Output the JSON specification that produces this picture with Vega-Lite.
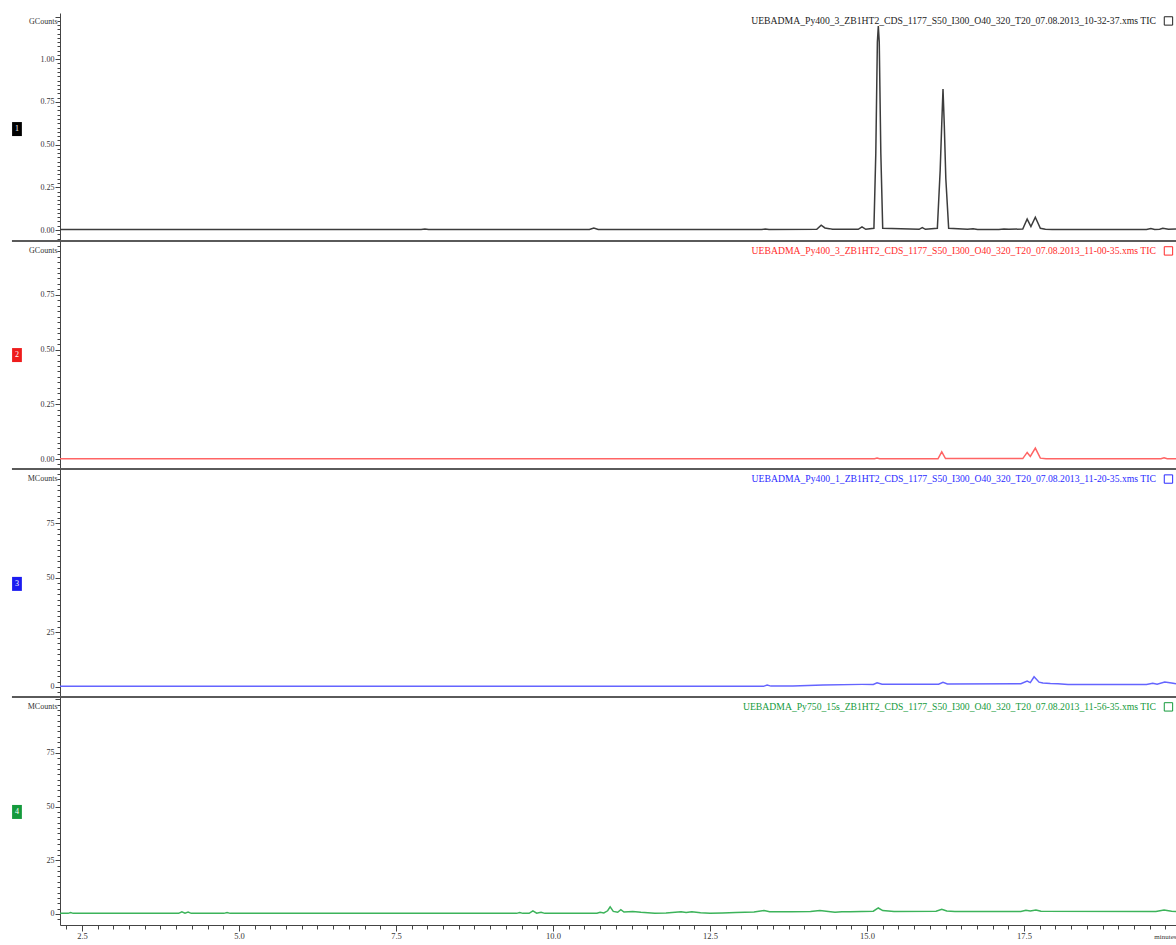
{
  "$schema": "https://vega.github.io/schema/vega-lite/v6.json",
  "background": "white",
  "padding": {"left": 10, "top": 12, "right": 0, "bottom": 0},
  "autosize": {"type": "pad"},
  "spacing": 0,
  "bounds": "flush",
  "config": {
    "view": {"stroke": null},
    "axis": {
      "grid": false,
      "domainColor": "#444444",
      "tickColor": "#444444",
      "labelFont": "Liberation Serif",
      "labelFontSize": 8,
      "labelColor": "#333333",
      "labelPadding": 1,
      "labelOverlap": false,
      "labelFlush": false,
      "labelBound": false,
      "titleFont": "Liberation Serif",
      "titleFontSize": 8,
      "titleFontWeight": "normal",
      "titleColor": "#333333"
    }
  },
  "datasets": {
    "run1": [
      {"t": 2.15, "v": 0.003}, {"t": 7.90, "v": 0.003}, {"t": 7.96, "v": 0.006}, {"t": 8.02, "v": 0.003},
      {"t": 10.58, "v": 0.003}, {"t": 10.65, "v": 0.012}, {"t": 10.72, "v": 0.003},
      {"t": 13.32, "v": 0.003}, {"t": 13.38, "v": 0.006}, {"t": 13.44, "v": 0.003},
      {"t": 14.20, "v": 0.004}, {"t": 14.27, "v": 0.028}, {"t": 14.33, "v": 0.012}, {"t": 14.40, "v": 0.008}, {"t": 14.45, "v": 0.004},
      {"t": 14.86, "v": 0.004}, {"t": 14.92, "v": 0.018}, {"t": 14.98, "v": 0.004},
      {"t": 15.11, "v": 0.01}, {"t": 15.14, "v": 0.45}, {"t": 15.165, "v": 1.1}, {"t": 15.18, "v": 1.194}, {"t": 15.195, "v": 1.1}, {"t": 15.22, "v": 0.45}, {"t": 15.25, "v": 0.01},
      {"t": 15.83, "v": 0.004}, {"t": 15.88, "v": 0.014}, {"t": 15.93, "v": 0.004},
      {"t": 16.12, "v": 0.01}, {"t": 16.165, "v": 0.35}, {"t": 16.19, "v": 0.62}, {"t": 16.21, "v": 0.826}, {"t": 16.23, "v": 0.62}, {"t": 16.255, "v": 0.3}, {"t": 16.30, "v": 0.01},
      {"t": 16.60, "v": 0.004}, {"t": 16.69, "v": 0.007}, {"t": 16.76, "v": 0.003},
      {"t": 17.10, "v": 0.003}, {"t": 17.18, "v": 0.006}, {"t": 17.26, "v": 0.004},
      {"t": 17.48, "v": 0.006}, {"t": 17.55, "v": 0.064}, {"t": 17.61, "v": 0.02}, {"t": 17.68, "v": 0.075}, {"t": 17.76, "v": 0.01}, {"t": 17.84, "v": 0.005}, {"t": 17.95, "v": 0.003},
      {"t": 19.45, "v": 0.003}, {"t": 19.52, "v": 0.009}, {"t": 19.58, "v": 0.003}, {"t": 19.66, "v": 0.004}, {"t": 19.71, "v": 0.010}, {"t": 19.80, "v": 0.005}, {"t": 19.92, "v": 0.006}
    ],
    "run2": [
      {"t": 2.15, "v": 0.001}, {"t": 15.12, "v": 0.001}, {"t": 15.16, "v": 0.004}, {"t": 15.20, "v": 0.001},
      {"t": 16.13, "v": 0.001}, {"t": 16.19, "v": 0.033}, {"t": 16.25, "v": 0.002},
      {"t": 17.48, "v": 0.002}, {"t": 17.55, "v": 0.03}, {"t": 17.60, "v": 0.012}, {"t": 17.68, "v": 0.05}, {"t": 17.76, "v": 0.004}, {"t": 17.85, "v": 0.001},
      {"t": 19.68, "v": 0.001}, {"t": 19.73, "v": 0.006}, {"t": 19.78, "v": 0.001}, {"t": 19.92, "v": 0.001}
    ],
    "run3": [
      {"t": 2.15, "v": 0.3}, {"t": 13.35, "v": 0.3}, {"t": 13.41, "v": 0.9}, {"t": 13.47, "v": 0.4}, {"t": 13.82, "v": 0.5},
      {"t": 14.3, "v": 0.9}, {"t": 14.92, "v": 1.2}, {"t": 15.10, "v": 1.2}, {"t": 15.16, "v": 1.9}, {"t": 15.24, "v": 1.3},
      {"t": 16.14, "v": 1.3}, {"t": 16.21, "v": 2.1}, {"t": 16.28, "v": 1.4},
      {"t": 17.45, "v": 1.5}, {"t": 17.55, "v": 2.7}, {"t": 17.60, "v": 2.0}, {"t": 17.66, "v": 4.7}, {"t": 17.74, "v": 2.2}, {"t": 17.80, "v": 1.8}, {"t": 17.92, "v": 1.6}, {"t": 18.04, "v": 1.5}, {"t": 18.2, "v": 1.2},
      {"t": 19.45, "v": 1.2}, {"t": 19.55, "v": 1.7}, {"t": 19.62, "v": 1.3}, {"t": 19.74, "v": 2.3}, {"t": 19.85, "v": 1.8}, {"t": 19.92, "v": 1.5}
    ],
    "run4": [
      {"t": 2.15, "v": 0.3}, {"t": 2.28, "v": 0.3}, {"t": 2.32, "v": 0.7}, {"t": 2.36, "v": 0.3},
      {"t": 4.04, "v": 0.3}, {"t": 4.09, "v": 1.0}, {"t": 4.14, "v": 0.4}, {"t": 4.19, "v": 0.9}, {"t": 4.24, "v": 0.3},
      {"t": 4.76, "v": 0.3}, {"t": 4.81, "v": 0.7}, {"t": 4.86, "v": 0.3},
      {"t": 9.42, "v": 0.3}, {"t": 9.47, "v": 0.7}, {"t": 9.52, "v": 0.3}, {"t": 9.62, "v": 0.3}, {"t": 9.68, "v": 1.5}, {"t": 9.74, "v": 0.4}, {"t": 9.81, "v": 0.8}, {"t": 9.87, "v": 0.3},
      {"t": 10.70, "v": 0.4}, {"t": 10.75, "v": 0.8}, {"t": 10.81, "v": 0.5}, {"t": 10.87, "v": 1.5}, {"t": 10.91, "v": 3.3}, {"t": 10.96, "v": 1.2}, {"t": 11.03, "v": 0.8}, {"t": 11.08, "v": 2.0}, {"t": 11.13, "v": 0.9},
      {"t": 11.27, "v": 1.2}, {"t": 11.40, "v": 0.8}, {"t": 11.62, "v": 0.3}, {"t": 11.80, "v": 0.5}, {"t": 12.04, "v": 1.0}, {"t": 12.12, "v": 0.7}, {"t": 12.21, "v": 1.0}, {"t": 12.35, "v": 0.6}, {"t": 12.50, "v": 0.3},
      {"t": 12.70, "v": 0.5}, {"t": 12.91, "v": 0.7}, {"t": 13.20, "v": 0.9}, {"t": 13.36, "v": 1.6}, {"t": 13.45, "v": 1.0}, {"t": 13.79, "v": 1.0},
      {"t": 14.10, "v": 1.2}, {"t": 14.25, "v": 1.6}, {"t": 14.35, "v": 1.3}, {"t": 14.49, "v": 0.8}, {"t": 14.60, "v": 1.0}, {"t": 14.73, "v": 1.0},
      {"t": 15.10, "v": 1.3}, {"t": 15.18, "v": 2.8}, {"t": 15.25, "v": 1.6}, {"t": 15.43, "v": 1.2},
      {"t": 16.10, "v": 1.3}, {"t": 16.19, "v": 2.2}, {"t": 16.27, "v": 1.4}, {"t": 16.40, "v": 1.2},
      {"t": 17.45, "v": 1.2}, {"t": 17.53, "v": 1.7}, {"t": 17.60, "v": 1.4}, {"t": 17.69, "v": 1.9}, {"t": 17.77, "v": 1.3},
      {"t": 19.60, "v": 1.2}, {"t": 19.73, "v": 1.9}, {"t": 19.85, "v": 1.3}, {"t": 19.92, "v": 1.2}
    ]
  },
  "vconcat": [
    {
      "width": 1116, "height": 228,
      "resolve": {"axis": {"x": "independent", "y": "independent"}},
      "layer": [
        {
          "data": {"name": "run1"},
          "mark": {"type": "line", "color": "#3c3c3c", "strokeWidth": 1.5},
          "encoding": {
            "x": {"field": "t", "type": "quantitative", "scale": {"domain": [2.15, 19.92], "nice": false, "zero": false}, "axis": null},
            "y": {"field": "v", "type": "quantitative", "scale": {"domain": [-0.0644, 1.2705], "nice": false, "zero": false},
              "axis": {
                "values": [-0.05, -0.025, 0, 0.025, 0.05, 0.075, 0.1, 0.125, 0.15, 0.175, 0.2, 0.225, 0.25, 0.275, 0.3, 0.325, 0.35, 0.375, 0.4, 0.425, 0.45, 0.475, 0.5, 0.525, 0.55, 0.575, 0.6, 0.625, 0.65, 0.675, 0.7, 0.725, 0.75, 0.775, 0.8, 0.825, 0.85, 0.875, 0.9, 0.925, 0.95, 0.975, 1, 1.025, 1.05, 1.075, 1.1, 1.125, 1.15, 1.175, 1.2, 1.225, 1.25],
                "labelExpr": "abs(datum.value*4-round(datum.value*4))<0.001 && datum.value < 1.2 ? format(datum.value,'.2f') : ''",
                "tickSize": {"condition": {"test": "abs(datum.value*4-round(datum.value*4))<0.001", "value": 5}, "value": 3},
                "labelOverlap": false,
                "title": "GCounts", "titleAngle": 0, "titleAlign": "right", "titleBaseline": "middle", "titleX": -3, "titleY": 8
              }
            }
          }
        },
        {
          "data": {"values": [{}]},
          "mark": {"type": "rule", "color": "#5a5a5a", "strokeWidth": 2},
          "encoding": {"x": {"datum": 1.385, "axis": null}, "x2": {"datum": 19.92}, "y": {"datum": -0.0644, "axis": null}}
        },
        {
          "data": {"values": [{}]},
          "mark": {"type": "point", "shape": "M-0.7,-1H0.7V1H-0.7Z", "filled": true, "color": "#000000", "size": 196, "opacity": 1},
          "encoding": {"x": {"datum": 1.465, "axis": null}, "y": {"datum": 0.591, "axis": null}}
        },
        {
          "data": {"values": [{}]},
          "mark": {"type": "text", "text": "1", "color": "#ffffff", "font": "Liberation Serif", "fontSize": 8, "align": "center", "baseline": "middle"},
          "encoding": {"x": {"datum": 1.465, "axis": null}, "y": {"datum": 0.591, "axis": null}}
        },
        {
          "data": {"values": [{"label": "UEBADMA_Py400_3_ZB1HT2_CDS_1177_S50_I300_O40_320_T20_07.08.2013_10-32-37.xms  TIC"}]},
          "mark": {"type": "text", "color": "#222222", "font": "Liberation Serif", "fontSize": 9.7, "align": "right", "baseline": "middle"},
          "encoding": {"x": {"datum": 19.60, "axis": null}, "y": {"datum": 1.224, "axis": null}, "text": {"field": "label"}}
        },
        {
          "data": {"values": [{}]},
          "mark": {"type": "point", "shape": "square", "filled": false, "color": "#222222", "size": 70, "strokeWidth": 1, "opacity": 1},
          "encoding": {"x": {"datum": 19.80, "axis": null}, "y": {"datum": 1.224, "axis": null}}
        }
      ]
    },
    {
      "width": 1116, "height": 228,
      "resolve": {"axis": {"x": "independent", "y": "independent"}},
      "layer": [
        {
          "data": {"name": "run2"},
          "mark": {"type": "line", "color": "#ff6464", "strokeWidth": 1.5},
          "encoding": {
            "x": {"field": "t", "type": "quantitative", "scale": {"domain": [2.15, 19.92], "nice": false, "zero": false}, "axis": null},
            "y": {"field": "v", "type": "quantitative", "scale": {"domain": [-0.0457, 0.9963], "nice": false, "zero": false},
              "axis": {
                "values": [-0.025, 0, 0.025, 0.05, 0.075, 0.1, 0.125, 0.15, 0.175, 0.2, 0.225, 0.25, 0.275, 0.3, 0.325, 0.35, 0.375, 0.4, 0.425, 0.45, 0.475, 0.5, 0.525, 0.55, 0.575, 0.6, 0.625, 0.65, 0.675, 0.7, 0.725, 0.75, 0.775, 0.8, 0.825, 0.85, 0.875, 0.9, 0.925, 0.95, 0.975],
                "labelExpr": "abs(datum.value*4-round(datum.value*4))<0.001 ? format(datum.value,'.2f') : ''",
                "tickSize": {"condition": {"test": "abs(datum.value*4-round(datum.value*4))<0.001", "value": 5}, "value": 3},
                "labelOverlap": false,
                "title": "GCounts", "titleAngle": 0, "titleAlign": "right", "titleBaseline": "middle", "titleX": -3, "titleY": 9
              }
            }
          }
        },
        {
          "data": {"values": [{}]},
          "mark": {"type": "rule", "color": "#5a5a5a", "strokeWidth": 2},
          "encoding": {"x": {"datum": 1.385, "axis": null}, "x2": {"datum": 19.92}, "y": {"datum": -0.0457, "axis": null}}
        },
        {
          "data": {"values": [{}]},
          "mark": {"type": "point", "shape": "M-0.7,-1H0.7V1H-0.7Z", "filled": true, "color": "#ee1c1c", "size": 196, "opacity": 1},
          "encoding": {"x": {"datum": 1.465, "axis": null}, "y": {"datum": 0.475, "axis": null}}
        },
        {
          "data": {"values": [{}]},
          "mark": {"type": "text", "text": "2", "color": "#ffffff", "font": "Liberation Serif", "fontSize": 8, "align": "center", "baseline": "middle"},
          "encoding": {"x": {"datum": 1.465, "axis": null}, "y": {"datum": 0.475, "axis": null}}
        },
        {
          "data": {"values": [{"label": "UEBADMA_Py400_3_ZB1HT2_CDS_1177_S50_I300_O40_320_T20_07.08.2013_11-00-35.xms  TIC"}]},
          "mark": {"type": "text", "color": "#ff2a2a", "font": "Liberation Serif", "fontSize": 9.7, "align": "right", "baseline": "middle"},
          "encoding": {"x": {"datum": 19.60, "axis": null}, "y": {"datum": 0.951, "axis": null}, "text": {"field": "label"}}
        },
        {
          "data": {"values": [{}]},
          "mark": {"type": "point", "shape": "square", "filled": false, "color": "#ff2a2a", "size": 70, "strokeWidth": 1, "opacity": 1},
          "encoding": {"x": {"datum": 19.80, "axis": null}, "y": {"datum": 0.951, "axis": null}}
        }
      ]
    },
    {
      "width": 1116, "height": 228,
      "resolve": {"axis": {"x": "independent", "y": "independent"}},
      "layer": [
        {
          "data": {"name": "run3"},
          "mark": {"type": "line", "color": "#6464ff", "strokeWidth": 1.5},
          "encoding": {
            "x": {"field": "t", "type": "quantitative", "scale": {"domain": [2.15, 19.92], "nice": false, "zero": false}, "axis": null},
            "y": {"field": "v", "type": "quantitative", "scale": {"domain": [-4.58, 99.8], "nice": false, "zero": false},
              "axis": {
                "values": [-2.5, 0, 2.5, 5, 7.5, 10, 12.5, 15, 17.5, 20, 22.5, 25, 27.5, 30, 32.5, 35, 37.5, 40, 42.5, 45, 47.5, 50, 52.5, 55, 57.5, 60, 62.5, 65, 67.5, 70, 72.5, 75, 77.5, 80, 82.5, 85, 87.5, 90, 92.5, 95, 97.5],
                "labelExpr": "datum.value % 25 == 0 ? format(datum.value,'d') : ''",
                "tickSize": {"condition": {"test": "datum.value % 25 == 0", "value": 5}, "value": 3},
                "labelOverlap": false,
                "title": "MCounts", "titleAngle": 0, "titleAlign": "right", "titleBaseline": "middle", "titleX": -3, "titleY": 9
              }
            }
          }
        },
        {
          "data": {"values": [{}]},
          "mark": {"type": "rule", "color": "#5a5a5a", "strokeWidth": 2},
          "encoding": {"x": {"datum": 1.385, "axis": null}, "x2": {"datum": 19.92}, "y": {"datum": -4.58, "axis": null}}
        },
        {
          "data": {"values": [{}]},
          "mark": {"type": "point", "shape": "M-0.7,-1H0.7V1H-0.7Z", "filled": true, "color": "#1c1cf0", "size": 196, "opacity": 1},
          "encoding": {"x": {"datum": 1.465, "axis": null}, "y": {"datum": 47.2, "axis": null}}
        },
        {
          "data": {"values": [{}]},
          "mark": {"type": "text", "text": "3", "color": "#ffffff", "font": "Liberation Serif", "fontSize": 8, "align": "center", "baseline": "middle"},
          "encoding": {"x": {"datum": 1.465, "axis": null}, "y": {"datum": 47.2, "axis": null}}
        },
        {
          "data": {"values": [{"label": "UEBADMA_Py400_1_ZB1HT2_CDS_1177_S50_I300_O40_320_T20_07.08.2013_11-20-35.xms  TIC"}]},
          "mark": {"type": "text", "color": "#2a2aff", "font": "Liberation Serif", "fontSize": 9.7, "align": "right", "baseline": "middle"},
          "encoding": {"x": {"datum": 19.60, "axis": null}, "y": {"datum": 95.2, "axis": null}, "text": {"field": "label"}}
        },
        {
          "data": {"values": [{}]},
          "mark": {"type": "point", "shape": "square", "filled": false, "color": "#2a2aff", "size": 70, "strokeWidth": 1, "opacity": 1},
          "encoding": {"x": {"datum": 19.80, "axis": null}, "y": {"datum": 95.2, "axis": null}}
        }
      ]
    },
    {
      "width": 1116, "height": 228,
      "resolve": {"axis": {"x": "independent", "y": "independent"}},
      "layer": [
        {
          "data": {"name": "run4"},
          "mark": {"type": "line", "color": "#3cb35a", "strokeWidth": 1.5},
          "encoding": {
            "x": {"field": "t", "type": "quantitative", "scale": {"domain": [2.15, 19.92], "nice": false, "zero": false},
              "axis": {
                "values": [2.25, 2.5, 2.75, 3, 3.25, 3.5, 3.75, 4, 4.25, 4.5, 4.75, 5, 5.25, 5.5, 5.75, 6, 6.25, 6.5, 6.75, 7, 7.25, 7.5, 7.75, 8, 8.25, 8.5, 8.75, 9, 9.25, 9.5, 9.75, 10, 10.25, 10.5, 10.75, 11, 11.25, 11.5, 11.75, 12, 12.25, 12.5, 12.75, 13, 13.25, 13.5, 13.75, 14, 14.25, 14.5, 14.75, 15, 15.25, 15.5, 15.75, 16, 16.25, 16.5, 16.75, 17, 17.25, 17.5, 17.75, 18, 18.25, 18.5, 18.75, 19, 19.25, 19.5, 19.75],
                "labelExpr": "abs(datum.value/2.5-round(datum.value/2.5))<0.001 ? format(datum.value,'.1f') : ''",
                "tickSize": {"condition": {"test": "abs(datum.value/2.5-round(datum.value/2.5))<0.001", "value": 6}, "value": 4},
                "labelOverlap": false, "labelFontSize": 8.5,
                "labelPadding": 0,
                "title": "minutes", "titleAnchor": "end", "titleAlign": "right", "titleBaseline": "top", "titleX": 1116, "titleY": 7, "titleFontSize": 7
              }
            },
            "y": {"field": "v", "type": "quantitative", "scale": {"domain": [-5.12, 101.0], "nice": false, "zero": false},
              "axis": {
                "values": [-2.5, 0, 2.5, 5, 7.5, 10, 12.5, 15, 17.5, 20, 22.5, 25, 27.5, 30, 32.5, 35, 37.5, 40, 42.5, 45, 47.5, 50, 52.5, 55, 57.5, 60, 62.5, 65, 67.5, 70, 72.5, 75, 77.5, 80, 82.5, 85, 87.5, 90, 92.5, 95, 97.5, 100],
                "labelExpr": "datum.value % 25 == 0 && datum.value < 99 ? format(datum.value,'d') : ''",
                "tickSize": {"condition": {"test": "datum.value % 25 == 0", "value": 5}, "value": 3},
                "labelOverlap": false,
                "title": "MCounts", "titleAngle": 0, "titleAlign": "right", "titleBaseline": "middle", "titleX": -3, "titleY": 9
              }
            }
          }
        },
        {
          "data": {"values": [{}]},
          "mark": {"type": "point", "shape": "M-0.7,-1H0.7V1H-0.7Z", "filled": true, "color": "#149a3c", "size": 196, "opacity": 1},
          "encoding": {"x": {"datum": 1.465, "axis": null}, "y": {"datum": 47.5, "axis": null}}
        },
        {
          "data": {"values": [{}]},
          "mark": {"type": "text", "text": "4", "color": "#ffffff", "font": "Liberation Serif", "fontSize": 8, "align": "center", "baseline": "middle"},
          "encoding": {"x": {"datum": 1.465, "axis": null}, "y": {"datum": 47.5, "axis": null}}
        },
        {
          "data": {"values": [{"label": "UEBADMA_Py750_15s_ZB1HT2_CDS_1177_S50_I300_O40_320_T20_07.08.2013_11-56-35.xms  TIC"}]},
          "mark": {"type": "text", "color": "#149a3c", "font": "Liberation Serif", "fontSize": 9.7, "align": "right", "baseline": "middle"},
          "encoding": {"x": {"datum": 19.60, "axis": null}, "y": {"datum": 96.4, "axis": null}, "text": {"field": "label"}}
        },
        {
          "data": {"values": [{}]},
          "mark": {"type": "point", "shape": "square", "filled": false, "color": "#149a3c", "size": 70, "strokeWidth": 1, "opacity": 1},
          "encoding": {"x": {"datum": 19.80, "axis": null}, "y": {"datum": 96.4, "axis": null}}
        }
      ]
    }
  ]
}
